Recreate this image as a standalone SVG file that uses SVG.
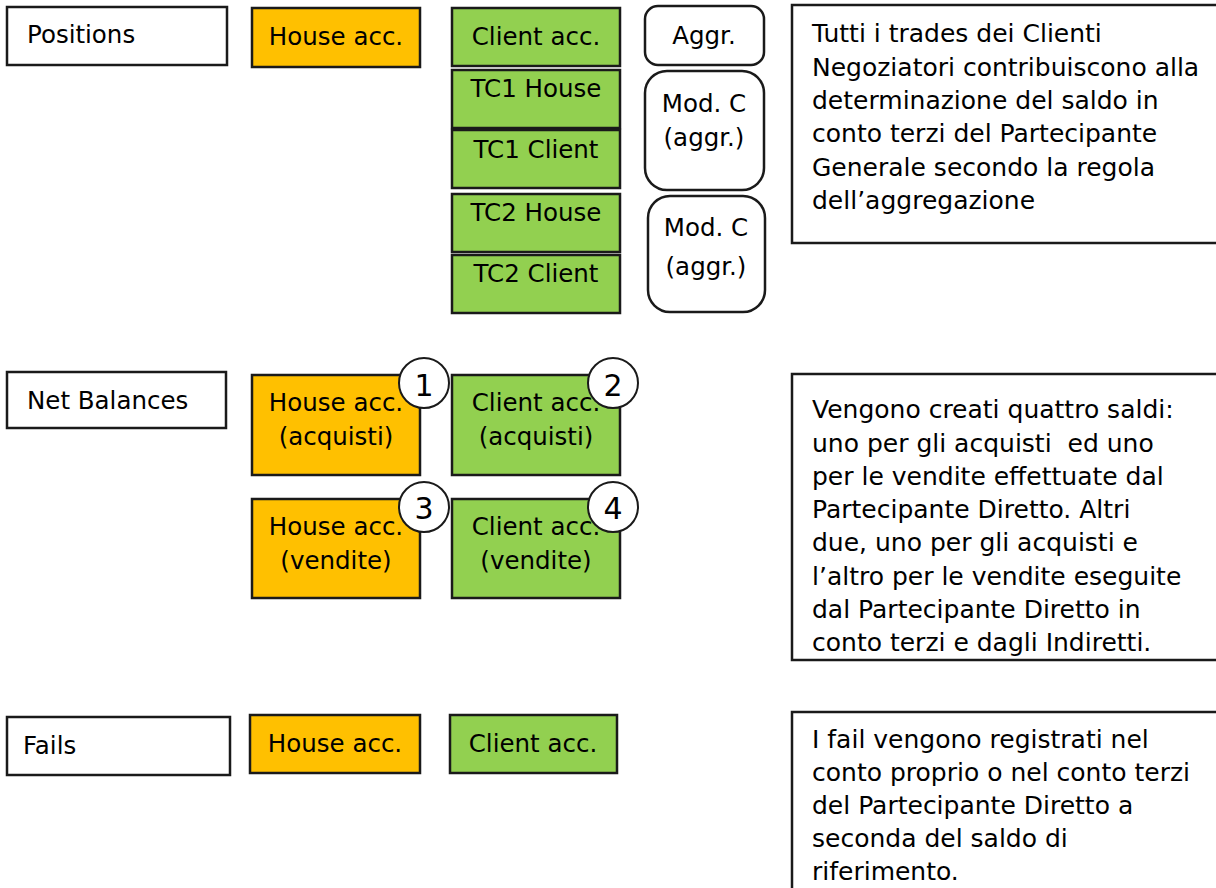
<svg xmlns="http://www.w3.org/2000/svg" width="1216" height="888" viewBox="0 0 1216 888">
<style>
.lbl{fill:#fff;stroke:#1a1a1a;stroke-width:2.5}
.house{fill:#FFC000;stroke:#1a1a1a;stroke-width:2.5}
.client{fill:#92D050;stroke:#1a1a1a;stroke-width:2.5}
.agg{fill:#fff;stroke:#1a1a1a;stroke-width:2.5}
.note{fill:#fff;stroke:#1a1a1a;stroke-width:2.5}
.num{fill:#fff;stroke:#1a1a1a;stroke-width:2}
text{font-family:"DejaVu Sans","Liberation Sans",sans-serif;font-size:24.5px;fill:#000}
.n text{font-size:25px}
.c{text-anchor:middle}
</style>
<rect width="1216" height="888" fill="#fff"/>
<g id="positions-label"><rect class="lbl" x="7" y="7" width="220" height="58"/><text x="27" y="43">Positions</text></g>
<g id="pos-house"><rect class="house" x="252" y="8" width="168" height="59"/><text class="c" x="336" y="45">House acc.</text></g>
<g id="pos-client"><rect class="client" x="452" y="8" width="168" height="58"/><text class="c" x="536" y="45">Client acc.</text></g>
<g id="tc1-house"><rect class="client" x="452" y="70" width="168" height="58"/><text class="c" x="536" y="97">TC1 House</text></g>
<g id="tc1-client"><rect class="client" x="452" y="130" width="168" height="58"/><text class="c" x="536" y="158">TC1 Client</text></g>
<g id="tc2-house"><rect class="client" x="452" y="194" width="168" height="58"/><text class="c" x="536" y="221">TC2 House</text></g>
<g id="tc2-client"><rect class="client" x="452" y="255" width="168" height="58"/><text class="c" x="536" y="282">TC2 Client</text></g>
<g id="aggr"><rect class="agg" x="645" y="6" width="119" height="59" rx="13"/><text class="c" x="704" y="44">Aggr.</text></g>
<g id="modc1"><rect class="agg" x="645" y="71" width="119" height="119" rx="22"/><text class="c" x="704" y="112">Mod. C</text><text class="c" x="704" y="146">(aggr.)</text></g>
<g id="modc2"><rect class="agg" x="648" y="196" width="117" height="116" rx="22"/><text class="c" x="706" y="236">Mod. C</text><text class="c" x="706" y="275">(aggr.)</text></g>
<g id="note1" class="n"><rect class="note" x="792" y="5" width="430" height="238"/>
<text x="812" y="42">Tutti i trades dei Clienti</text>
<text x="812" y="76">Negoziatori contribuiscono alla</text>
<text x="812" y="109">determinazione del saldo in</text>
<text x="812" y="142">conto terzi del Partecipante</text>
<text x="812" y="176">Generale secondo la regola</text>
<text x="812" y="209">dell’aggregazione</text></g>

<g id="net-label"><rect class="lbl" x="7" y="372" width="219" height="56"/><text x="27" y="409">Net Balances</text></g>
<g id="nb-house-acq"><rect class="house" x="252" y="375" width="168" height="100"/><text class="c" x="336" y="411">House acc.</text><text class="c" x="336" y="445">(acquisti)</text></g>
<g id="nb-client-acq"><rect class="client" x="452" y="375" width="168" height="100"/><text class="c" x="536" y="411">Client acc.</text><text class="c" x="536" y="445">(acquisti)</text></g>
<g id="nb-house-ven"><rect class="house" x="252" y="499" width="168" height="99"/><text class="c" x="336" y="535">House acc.</text><text class="c" x="336" y="569">(vendite)</text></g>
<g id="nb-client-ven"><rect class="client" x="452" y="499" width="168" height="99"/><text class="c" x="536" y="535">Client acc.</text><text class="c" x="536" y="569">(vendite)</text></g>
<g id="n1"><circle class="num" cx="424" cy="383" r="25"/><text class="c" x="424" y="396" style="font-size:30px">1</text></g>
<g id="n2"><circle class="num" cx="613" cy="383" r="25"/><text class="c" x="613" y="396" style="font-size:30px">2</text></g>
<g id="n3"><circle class="num" cx="424" cy="507" r="25"/><text class="c" x="424" y="519" style="font-size:30px">3</text></g>
<g id="n4"><circle class="num" cx="613" cy="507" r="25"/><text class="c" x="613" y="519" style="font-size:30px">4</text></g>
<g id="note2" class="n"><rect class="note" x="792" y="374" width="430" height="286"/>
<text x="812" y="418">Vengono creati quattro saldi:</text>
<text x="812" y="452" style="white-space:pre">uno per gli acquisti  ed uno</text>
<text x="812" y="485">per le vendite effettuate dal</text>
<text x="812" y="518">Partecipante Diretto. Altri</text>
<text x="812" y="551">due, uno per gli acquisti e</text>
<text x="812" y="585">l’altro per le vendite eseguite</text>
<text x="812" y="618">dal Partecipante Diretto in</text>
<text x="812" y="651">conto terzi e dagli Indiretti.</text></g>

<g id="fails-label"><rect class="lbl" x="7" y="717" width="223" height="58"/><text x="23" y="754">Fails</text></g>
<g id="fails-house"><rect class="house" x="250" y="715" width="170" height="58"/><text class="c" x="335" y="752">House acc.</text></g>
<g id="fails-client"><rect class="client" x="450" y="715" width="167" height="58"/><text class="c" x="533" y="752">Client acc.</text></g>
<g id="note3" class="n"><rect class="note" x="792" y="712" width="430" height="190"/>
<text x="812" y="748">I fail vengono registrati nel</text>
<text x="812" y="781">conto proprio o nel conto terzi</text>
<text x="812" y="814">del Partecipante Diretto a</text>
<text x="812" y="847">seconda del saldo di</text>
<text x="812" y="880">riferimento.</text></g>
<g id="connectors"></g>
</svg>
